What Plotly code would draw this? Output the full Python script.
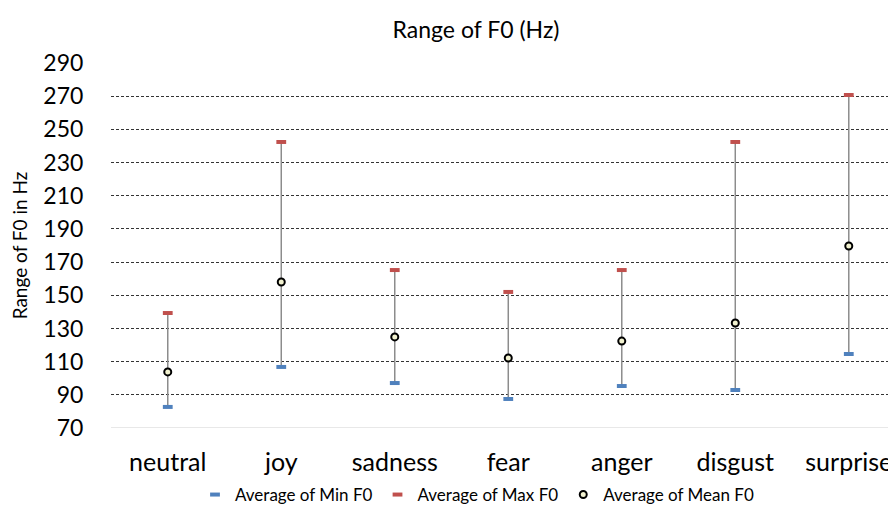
import plotly.graph_objects as go

categories = ["neutral", "joy", "sadness", "fear", "anger", "disgust", "surprise"]
min_f0 = [82.7, 106.8, 97.1, 87.5, 95.3, 92.9, 114.6]
max_f0 = [139.3, 242.4, 165.2, 152.0, 165.2, 242.4, 270.7]
mean_f0 = [103.8, 158.0, 124.9, 112.2, 122.4, 133.3, 179.7]
y_ticks = [70, 90, 110, 130, 150, 170, 190, 210, 230, 250, 270, 290]

FONT = "Lato"
OFF = 8  # browser default body margin

# high-low lines
lx, ly = [], []
for i, c in enumerate(categories):
    lx += [i, i, None]
    ly += [min_f0[i], max_f0[i], None]

xs = list(range(len(categories)))

fig = go.Figure()
fig.add_trace(go.Scatter(x=lx, y=ly, mode="lines", line=dict(color="#8c8c8c", width=1.5),
                         showlegend=False, hoverinfo="skip"))
fig.add_trace(go.Scatter(x=xs, y=min_f0, mode="markers", name="Average of Min F0",
                         marker=dict(symbol="line-ew", size=7, line=dict(color="#4F81BD", width=4))))
fig.add_trace(go.Scatter(x=xs, y=max_f0, mode="markers", name="Average of Max F0",
                         marker=dict(symbol="line-ew", size=7, line=dict(color="#C0504D", width=4))))
fig.add_trace(go.Scatter(x=xs, y=mean_f0, mode="markers", name="Average of Mean F0",
                         marker=dict(symbol="circle", size=7, color="#f2f2d0",
                                     line=dict(color="black", width=2))))

W, H = 896, 511
fig.update_layout(
    width=W, height=H,
    paper_bgcolor="white", plot_bgcolor="white",
    margin=dict(l=111 - OFF, r=OFF, t=63 - OFF, b=H - (428 - OFF), autoexpand=False),
    font=dict(family=FONT, color="black"),
    title=dict(text="Range of F0 (Hz)", x=(476 - OFF) / W, xref="container", xanchor="center",
               y=1 - (30 - OFF) / H, yref="container", yanchor="middle",
               font=dict(size=23, family=FONT, color="black")),
    xaxis=dict(tickmode="array", tickvals=xs, ticktext=categories, automargin=False,
               range=[-0.5, 6.416], showgrid=False, zeroline=False,
               showline=False, ticks="outside", ticklen=12, tickcolor="rgba(0,0,0,0)",
               tickfont=dict(size=25, family=FONT, color="black")),
    yaxis=dict(range=[70, 290], tickmode="array", tickvals=y_ticks, automargin=False,
               showgrid=True, gridcolor="#333333", gridwidth=1, griddash="3px,2px",
               zeroline=False, showline=False,
               ticks="outside", ticklen=22, tickcolor="rgba(0,0,0,0)",
               tickfont=dict(size=23, family=FONT, color="black"),
               title=dict(text="Range of F0 in Hz", font=dict(size=19, family=FONT, color="black"),
                          standoff=10)),
    legend=dict(orientation="h", x=(477 - OFF) / W, xref="container", xanchor="center",
                y=1 - (495 - OFF) / H, yref="container", yanchor="middle",
                font=dict(size=17, family=FONT, color="black"), itemwidth=30),
    shapes=[dict(type="line", xref="paper", yref="y", x0=0, x1=1, y0=70, y1=70,
                 line=dict(color="#d0d0d0", width=1))],
)

fig.write_html("out.html")
